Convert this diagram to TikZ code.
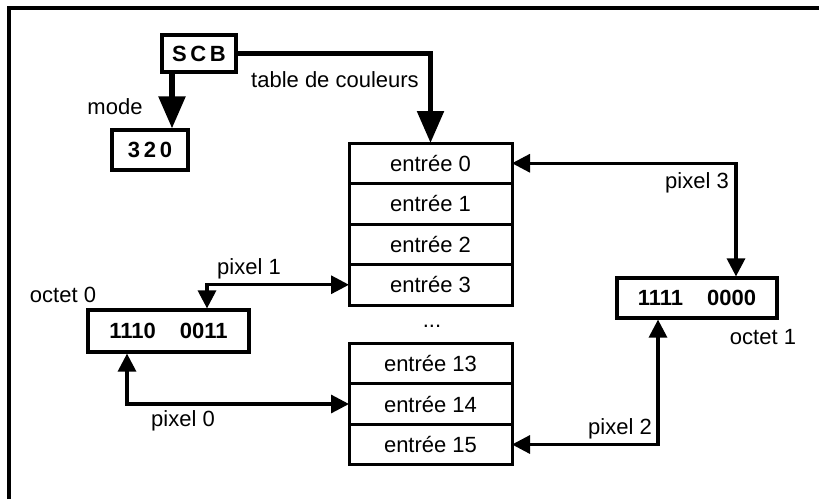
\documentclass[tikz,border=0pt]{standalone}
\usepackage{fontspec}
\setmainfont{Liberation Sans}
\usepackage{tikz}
\usetikzlibrary{
  positioning,
  arrows.meta
}
\tikzset{
  cell/.style={
    draw, line width=1.5pt,
    minimum width=81.5pt,
    minimum height=20.25pt,
    inner sep=0pt, outer sep=0pt,
    font=\fontsize{11}{13}\selectfont
  },
  regbox/.style={
    draw, line width=1.6pt,
    minimum width=37pt,
    minimum height=18.5pt,
    inner sep=0pt,
    font=\fontsize{11}{13}\selectfont\bfseries
  },
  bytebox/.style={
    draw, line width=1.6pt,
    minimum width=80pt,
    minimum height=20pt,
    inner sep=0pt,
    font=\fontsize{11}{13}\selectfont\bfseries
  },
  feed/.style={-{Triangle[length=16pt, width=13pt]}, line width=2.7pt},
  link/.style={{Triangle[length=9pt, width=9pt]}-{Triangle[length=9pt, width=9pt]}, line width=1.6pt}
}

\begin{document}
\begin{tikzpicture}[
  x=0.5pt, y=-0.5pt,
  lbl/.style={font=\fontsize{11}{13}\selectfont, inner sep=0pt},
]
\useasboundingbox (0,0) rectangle (819,499);

% cadre
\draw[line width=1.6pt] (9,499) -- (9,8) -- (819,8);

% SCB et mode
\node[regbox] (scb) at (199,53.5) {S\,C\,B};
\node[regbox, minimum width=38pt, minimum height=20pt] (m320) at (150,150) {3\,2\,0};
\draw[feed] ([xshift=-13.5pt]scb.south) -- ([xshift=-13.5pt]scb.south |- m320.north);
\node[lbl] (mode) at (115,107) {mode};

% table de couleurs
\node[cell] (e0) at (430.5,163.25) {entrée 0};
\node[cell, below=0pt of e0] (e1) {entrée 1};
\node[cell, below=0pt of e1] (e2) {entrée 2};
\node[cell, below=0pt of e2] (e3) {entrée 3};
\node[lbl] (dots) at (432,326) {...};
\node[cell] (e13) at (430.5,363.5) {entrée 13};
\node[cell, below=0pt of e13] (e14) {entrée 14};
\node[cell, below=0pt of e14] (e15) {entrée 15};
\draw[feed] (scb.east) -| (e0.north);
\node[lbl] (tdc) at (335,80) {table de couleurs};

% octet 0
\node[bytebox, minimum width=80.5pt, minimum height=21pt] (oct0) at (168.5,331) {1110\hspace{12pt}0011};
\node[lbl] (oct0lbl) at (63,295) {octet 0};
\draw[link] ([xshift=19.25pt]oct0.north) |- (e3.west);
\node[lbl] (pix1) at (249,269) {pixel 1};
\draw[link] ([xshift=-20.75pt]oct0.south) |- (e14.west);
\node[lbl] (pix0) at (183,421) {pixel 0};

% octet 1
\node[bytebox] (oct1) at (697,298) {1111\hspace{12pt}0000};
\node[lbl] (oct1lbl) at (763,337) {octet 1};
\draw[link] (e0.east) -| ([xshift=19.5pt]oct1.north);
\node[lbl] (pix3) at (697,183) {pixel 3};
\draw[link] (e15.east) -| ([xshift=-19.5pt]oct1.south);
\node[lbl] (pix2) at (620,429) {pixel 2};

\end{tikzpicture}
\end{document}
